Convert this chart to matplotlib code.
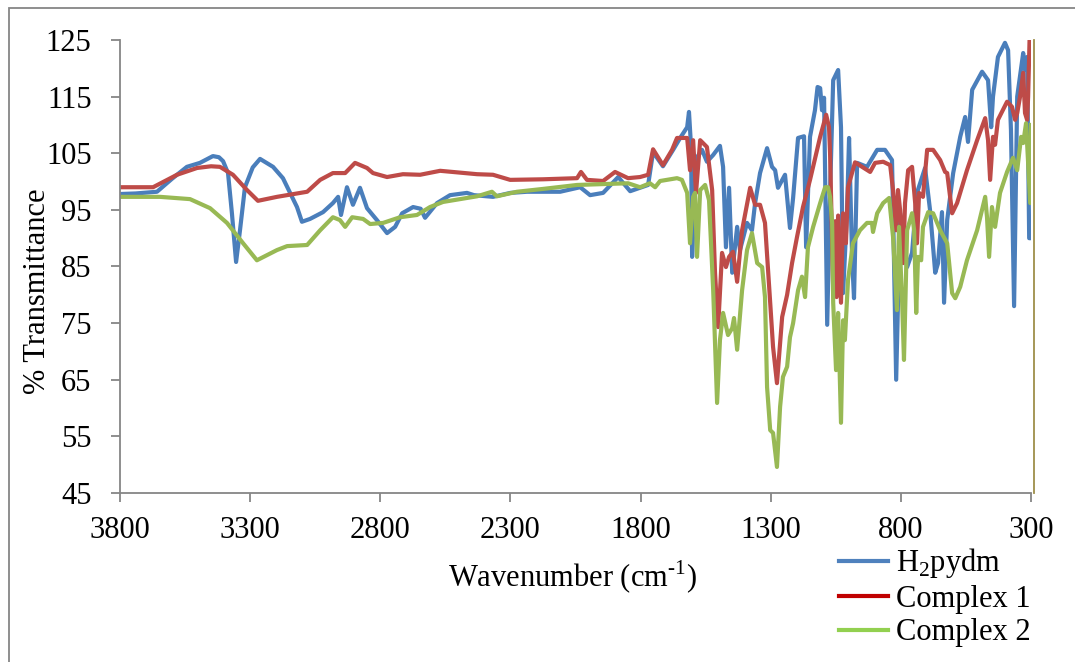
import matplotlib
matplotlib.use("Agg")
from matplotlib import pyplot as plt
from matplotlib.lines import Line2D
from matplotlib.patches import Rectangle

# IR spectra: wavenumber (cm-1) and % transmittance
h2pydm_wn = [3800, 3740, 3658, 3600, 3543, 3493, 3443, 3420, 3404, 3385, 3370, 3354, 3339, 3320,
             3290, 3262, 3212, 3174, 3120, 3101, 3070, 3020, 2982, 2962, 2951, 2928, 2905, 2878,
             2851, 2813, 2774, 2743, 2716, 2674, 2645, 2628, 2582, 2532, 2467, 2440, 2367, 2300,
             2236, 2109, 2032, 1994, 1944, 1886, 1840, 1802, 1771, 1752, 1714, 1675, 1648, 1621,
             1614, 1606, 1602, 1591, 1583, 1564, 1545, 1521, 1495, 1483, 1472, 1460, 1448, 1429,
             1418, 1391, 1372, 1360, 1341, 1314, 1295, 1283, 1272, 1245, 1226, 1214, 1195, 1172,
             1164, 1149, 1130, 1120, 1110, 1103, 1095, 1083, 1072, 1060, 1041, 1030, 1022, 1007,
             999, 987, 980, 968, 930, 891, 861, 834, 830, 818, 803, 776, 757, 738, 718, 707, 688,
             668, 657, 642, 634, 622, 599, 572, 553, 542, 526, 488, 465, 453, 446, 427, 400, 388,
             377, 365, 353, 330, 323, 315, 307, 300]
h2pydm_t = [97.8, 97.9, 98.2, 100.5, 102.6, 103.3, 104.5, 104.3, 103.6, 101.5, 94.4, 85.8, 91.4, 99.0,
            102.5, 104.0, 102.6, 100.6, 95.5, 92.9, 93.4, 94.6, 96.2, 97.3, 94.1, 99.0, 95.9, 98.9,
            95.3, 93.2, 90.9, 92.0, 94.4, 95.5, 95.2, 93.6, 96.2, 97.6, 98.0, 97.6, 97.3, 98.0,
            98.2, 98.2, 99.0, 97.6, 98.0, 100.8, 98.3, 98.9, 99.4, 105.2, 102.7, 105.6, 107.7, 109.6,
            112.3, 106.1, 86.7, 99.0, 104.3, 105.6, 103.5, 104.7, 106.3, 102.6, 88.4, 98.9, 83.9, 92.0,
            87.9, 92.7, 91.4, 96.2, 101.5, 105.9, 102.6, 102.0, 98.9, 101.2, 91.8, 97.1, 107.7, 108.0,
            88.4, 107.9, 112.6, 116.7, 116.5, 112.6, 114.8, 74.7, 98.0, 117.9, 119.7, 109.6, 80.3, 94.4,
            107.7, 86.1, 79.4, 103.3, 102.6, 105.6, 105.6, 103.8, 95.0, 65.0, 94.4, 84.9, 87.4, 98.0,
            100.8, 102.4, 95.0, 83.9, 85.6, 94.6, 78.6, 93.2, 101.5, 107.9, 111.4, 107.0, 116.2, 119.4,
            117.9, 109.6, 115.0, 122.0, 124.5, 123.2, 109.1, 78.0, 115.0, 122.7, 119.7, 122.0, 90.0, 90.0]

complex1_wn = [3800, 3673, 3581, 3504, 3450, 3416, 3366, 3312, 3270, 3197, 3081, 3031, 2982, 2935,
               2897, 2851, 2828, 2774, 2713, 2647, 2570, 2428, 2367, 2301, 2175, 2044, 2029, 2006,
               1944, 1898, 1848, 1802, 1771, 1752, 1714, 1679, 1660, 1621, 1610, 1598, 1587, 1571,
               1545, 1525, 1514, 1502, 1487, 1472, 1460, 1445, 1429, 1410, 1379, 1360, 1341, 1322,
               1302, 1291, 1276, 1256, 1237, 1218, 1199, 1176, 1149, 1110, 1087, 1076, 1072, 1060,
               1052, 1047, 1041, 1030, 1022, 1011, 1003, 976, 949, 918, 899, 868, 841, 830, 818, 811,
               803, 791, 784, 772, 757, 745, 738, 730, 715, 699, 676, 649, 630, 622, 603, 584, 546,
               507, 476, 465, 457, 446, 438, 427, 392, 373, 361, 353, 342, 330, 323, 315, 311, 305, 300]
complex1_t = [99.0, 99.0, 101.2, 102.4, 102.7, 102.6, 101.2, 98.5, 96.6, 97.3, 98.2, 100.3, 101.5, 101.5,
              103.3, 102.4, 101.5, 100.8, 101.3, 101.2, 101.9, 101.3, 101.2, 100.3, 100.4, 100.6, 101.7, 100.3,
              100.1, 101.7, 100.6, 100.8, 101.2, 105.7, 102.9, 105.6, 107.7, 107.7, 102.0, 107.3, 98.0, 107.3,
              106.1, 98.5, 83.9, 74.3, 87.4, 84.9, 86.7, 87.6, 82.3, 91.4, 98.9, 95.9, 95.9, 92.7,
              78.6, 70.8, 64.4, 76.1, 80.0, 85.6, 90.2, 95.5, 100.3, 107.9, 111.8, 109.6, 105.0, 81.0,
              93.0, 79.6, 94.0, 78.6, 94.4, 89.1, 99.0, 103.4, 102.6, 101.7, 103.3, 103.5, 102.9, 98.5, 91.4, 98.5,
              95.0, 85.6, 96.2, 102.0, 102.6, 96.2, 89.1, 98.0, 97.3, 105.6, 105.6, 103.8, 101.7, 101.5, 94.4, 96.2, 102.0,
              107.3, 111.2, 107.3, 100.3, 107.9, 106.5, 110.9, 114.1, 113.2, 110.9, 112.1, 115.0, 119.2, 112.1, 110.9, 115.0, 126.0, 126.0]

complex2_wn = [3800, 3646, 3531, 3454, 3389, 3327, 3274, 3197, 3158, 3081, 3031, 2982, 2955, 2935,
               2908, 2866, 2839, 2789, 2724, 2659, 2609, 2559, 2428, 2371, 2352, 2275, 2175, 2044,
               1917, 1848, 1802, 1764, 1744, 1725, 1660, 1641, 1621, 1610, 1598, 1591, 1583, 1571,
               1552, 1537, 1521, 1506, 1495, 1483, 1464, 1448, 1441, 1429, 1410, 1391, 1372, 1352,
               1333, 1322, 1314, 1302, 1291, 1276, 1264, 1253, 1237, 1226, 1214, 1195, 1180, 1168,
               1157, 1137, 1110, 1091, 1080, 1072, 1064, 1060, 1049, 1041, 1030, 1022, 1015, 1003,
               984, 957, 930, 911, 907, 891, 868, 845, 830, 815, 807, 795, 788, 776, 757, 749, 741,
               734, 722, 715, 695, 676, 649, 622, 603, 591, 572, 546, 507, 476, 469, 461, 450, 438,
               419, 392, 369, 353, 338, 330, 319, 311, 303, 300]
complex2_t = [97.3, 97.3, 96.9, 95.3, 92.7, 89.1, 86.1, 87.9, 88.6, 88.8, 91.4, 93.7, 93.2, 92.0,
              93.7, 93.4, 92.5, 92.7, 93.7, 94.1, 95.5, 96.4, 97.4, 98.2, 97.4, 98.2, 98.7, 99.4,
              99.6, 99.7, 99.0, 99.7, 99.0, 100.1, 100.6, 100.3, 98.0, 89.1, 97.3, 98.0, 86.7, 98.5,
              99.4, 96.7, 80.8, 60.9, 72.0, 76.8, 72.9, 74.1, 75.9, 70.3, 80.8, 87.9, 90.9, 85.6,
              84.9, 79.6, 63.7, 56.1, 55.6, 49.6, 60.2, 65.5, 67.3, 72.5, 75.0, 80.8, 83.2, 79.6,
              88.4, 92.0, 96.2, 99.0, 99.0, 97.3, 92.7, 78.6, 66.7, 76.8, 57.4, 75.5, 72.0, 82.6,
              89.1, 91.4, 92.7, 92.7, 91.1, 94.4, 96.2, 97.1, 90.2, 77.3, 92.0, 78.6, 68.5, 91.4, 94.4, 91.4, 76.8,
              86.7, 86.1, 92.0, 94.6, 94.4, 91.4, 89.1, 80.3, 79.4, 81.4, 86.1, 91.4, 97.3, 93.7, 86.7, 95.5, 92.0,
              98.0, 101.7, 104.2, 102.0, 107.9, 106.8, 110.3, 103.3, 96.2, 110.0]

series_names = ["H$_{\\mathregular{2}}$pydm", "Complex 1", "Complex 2"]
line_colors = ["#4a7ebb", "#be4b48", "#98b954"]
legend_colors = ["#4f81bd", "#c00000", "#92d050"]

y_ticks = [45, 55, 65, 75, 85, 95, 105, 115, 125]
x_ticks = [3800, 3300, 2800, 2300, 1800, 1300, 800, 300]

plt.rcParams["font.family"] = ["Liberation Serif", "DejaVu Serif"]
plt.rcParams["mathtext.fontset"] = "custom"
plt.rcParams["mathtext.rm"] = "Liberation Serif"

fig = plt.figure(figsize=(10.75, 6.62), dpi=100)
ax = fig.add_axes([120 / 1075, 1 - 493 / 662, 911 / 1075, 453 / 662])

for wn, t, c in zip([h2pydm_wn, complex1_wn, complex2_wn],
                    [h2pydm_t, complex1_t, complex2_t], line_colors):
    ax.plot(wn, t, color=c, linewidth=3.0, solid_joinstyle="round")

ax.set_xlim(3800, 300)
ax.set_ylim(45, 125)
ax.set_xticks(x_ticks)
ax.set_yticks(y_ticks)

gray = "#868686"
ax.spines["top"].set_visible(False)
ax.spines["left"].set_color(gray)
ax.spines["bottom"].set_color(gray)
ax.spines["left"].set_linewidth(1.3)
ax.spines["bottom"].set_linewidth(1.3)
ax.spines["right"].set_color("#9e8f4a")
ax.spines["right"].set_linewidth(1.3)
ax.spines["right"].set_position(("outward", 2))

ax.tick_params(axis="both", direction="out", length=6.5, width=1.3, color=gray,
               labelsize=22, labelcolor="black")
ax.tick_params(axis="y", pad=14)
ax.tick_params(axis="x", pad=10)

ax.set_ylabel("% Transmittance", fontsize=22)
ax.yaxis.set_label_coords(-0.075, 0.445)
ax.set_xlabel("Wavenumber (cm$^{\\text{-1}}$)", fontsize=22)
ax.xaxis.set_label_coords(0.497, -0.145)

handles = [Line2D([], [], color=c, linewidth=3) for c in legend_colors]
fig.legend(handles, series_names, loc="upper left", bbox_to_anchor=(824 / 1075, 1 - 531 / 662),
           frameon=False, fontsize=22, handlelength=1.6, handletextpad=0.25,
           labelspacing=0.15, borderpad=0)

fig.patches.append(Rectangle((9 / 1075, -0.05), 1.2, 1 - 7.5 / 662 + 0.05,
                             transform=fig.transFigure, fill=False,
                             edgecolor=gray, linewidth=1.3))

plt.savefig("out.png", dpi=100)
plt.close()
